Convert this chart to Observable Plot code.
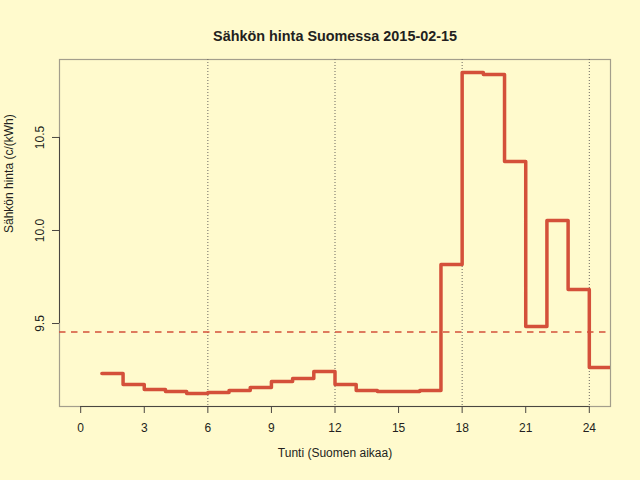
<!DOCTYPE html>
<html>
<head>
<meta charset="utf-8">
<script src="https://cdn.jsdelivr.net/npm/d3@7"></script>
<script src="https://cdn.jsdelivr.net/npm/@observablehq/plot@0.6"></script>
<style>
  html, body { margin: 0; padding: 0; background: #FFFACD; }
</style>
</head>
<body>
<div id="chart"></div>
<script>
// Data
const hours = [1, 2, 3, 4, 5, 6, 7, 8, 9, 10, 11, 12, 13, 14, 15, 16, 17, 18, 19, 20, 21, 22, 23, 24, 25];
const prices = [9.231, 9.172, 9.145, 9.134, 9.124, 9.129, 9.140, 9.156, 9.188, 9.204, 9.242, 9.172,
                9.140, 9.134, 9.134, 9.140, 9.817, 10.849, 10.839, 10.371, 9.484, 10.054, 9.683, 9.263, 9.263];
const meanPrice = 9.455;
const xTicks = [0, 3, 6, 9, 12, 15, 18, 21, 24];
const yTicks = [9.5, 10.0, 10.5];
const gridHours = [6, 12, 18, 24];
const xDomain = [-1, 25];
const yDomain = [9.054, 10.919];
const title = "Sähkön hinta Suomessa 2015-02-15";
const xLabel = "Tunti (Suomen aikaa)";
const yLabel = "Sähkön hinta (c/(kWh)";

const data = hours.map((h, i) => ({hour: h, price: prices[i]}));
const red = "#D4503A";
const axisColor = "#4a4640";
const textColor = "#231f20";

const chart = Plot.plot({
  width: 640,
  height: 480,
  marginLeft: 59,
  marginRight: 30,
  marginTop: 59,
  marginBottom: 74,
  style: {
    background: "#FFFACD",
    fontFamily: "'Liberation Sans', Arial, Helvetica, sans-serif",
    fontSize: "12px",
    color: textColor
  },
  x: {domain: xDomain},
  y: {domain: yDomain},
  marks: [
    Plot.frame({stroke: "#a39e8c", strokeWidth: 1.2}),
    Plot.ruleX(gridHours, {stroke: "#6b6760", strokeDasharray: "1,2", strokeWidth: 1}),
    Plot.ruleY([meanPrice], {stroke: red, strokeDasharray: "6.5,5.5", strokeWidth: 1.5}),
    Plot.line(data, {x: "hour", y: "price", curve: "step-after", stroke: red, strokeWidth: 3.5, clip: true}),
    Plot.ruleY([yDomain[0]], {x1: xTicks[0], x2: xTicks[xTicks.length - 1], stroke: axisColor, strokeWidth: 1}),
    Plot.ruleX([xDomain[0]], {y1: yTicks[0], y2: yTicks[yTicks.length - 1], stroke: axisColor, strokeWidth: 1}),
    Plot.axisX(xTicks, {tickSize: 7, tickPadding: 10, stroke: axisColor, fill: textColor, label: null, tickFormat: d => String(d)}),
    Plot.axisY(yTicks, {tickSize: 7, tickPadding: 9, tickRotate: -90, stroke: axisColor, fill: textColor, label: null, tickFormat: d3.format(".1f")}),
    Plot.text([title], {frameAnchor: "top", dy: -29, fontWeight: "bold", fontSize: 14.4, fill: textColor}),
    Plot.text([xLabel], {frameAnchor: "bottom", dy: 50, fontSize: 12, fill: textColor}),
    Plot.text([yLabel], {frameAnchor: "left", dx: -50, rotate: -90, fontSize: 12, fill: textColor})
  ]
});
document.getElementById("chart").appendChild(chart);
</script>
</body>
</html>
